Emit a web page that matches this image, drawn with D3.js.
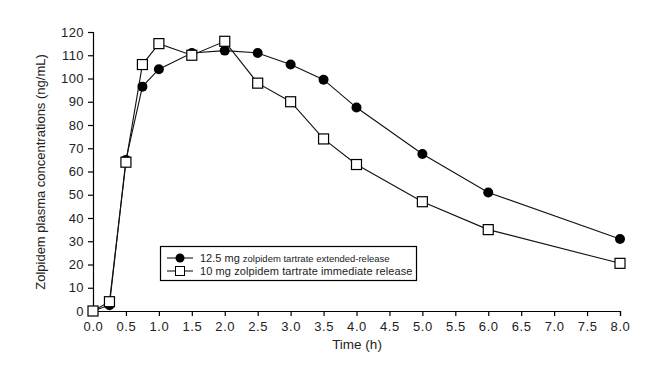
<!DOCTYPE html>
<html><head><meta charset="utf-8">
<script src="https://cdn.jsdelivr.net/npm/d3@7"></script>
<style>body{margin:0;background:#fff}svg{display:block}</style>
</head><body><svg id="c" width="661" height="382"></svg>
<script>
const times = [0, 0.25, 0.5, 0.75, 1.0, 1.5, 2.0, 2.5, 3.0, 3.5, 4.0, 5.0, 6.0, 8.0];
const extendedRelease = [0, 2.5, 65, 96.5, 104, 111, 112, 111, 106, 99.5, 87.5, 67.5, 51, 31];
const immediateRelease = [0, 4, 64, 106, 115, 110, 116, 98, 90, 74, 63, 47, 35, 20.5];
const xTicks = [0,0.5,1,1.5,2,2.5,3,3.5,4,4.5,5,5.5,6,6.5,7,7.5,8];
const yTicks = [0,10,20,30,40,50,60,70,80,90,100,110,120];

const svg = d3.select("#c");
const x = d3.scaleLinear().domain([0, 8]).range([93, 620]);
const y = d3.scaleLinear().domain([0, 120]).range([311, 32]);
const font = "'Liberation Sans', Arial, sans-serif";

const xa = svg.append("g").attr("transform","translate(0,311)")
  .call(d3.axisBottom(x).tickValues(xTicks).tickFormat(d3.format(".1f")).tickSizeOuter(0).tickSize(5).tickPadding(6));
const ya = svg.append("g").attr("transform","translate(93,0)")
  .call(d3.axisLeft(y).tickValues(yTicks).tickSizeOuter(0).tickSize(5).tickPadding(4));
[xa, ya].forEach(a => {
  a.selectAll("path,line").attr("stroke","#000").attr("stroke-width",1.2);
  a.selectAll("text").attr("font-family",font).attr("font-size",13).attr("fill","#222");
});
xa.selectAll("text").attr("letter-spacing","0.6px");
ya.selectAll("text").attr("letter-spacing","0.4px");

svg.append("text").attr("x",357).attr("y",349).attr("text-anchor","middle")
  .attr("font-family",font).attr("font-size",13.5).attr("fill","#222").text("Time (h)");
svg.append("text").attr("transform","translate(45,172) rotate(-90)").attr("text-anchor","middle")
  .attr("font-family",font).attr("font-size",13).attr("fill","#222").text("Zolpidem plasma concentrations (ng/mL)");

const line = d3.line().x((d,i)=>x(times[i])).y(d=>y(d));
svg.append("path").datum(immediateRelease).attr("d",line).attr("fill","none").attr("stroke","#111").attr("stroke-width",1.1);
svg.append("path").datum(extendedRelease).attr("d",line).attr("fill","none").attr("stroke","#111").attr("stroke-width",1.1);

svg.append("g").selectAll("circle").data(extendedRelease).join("circle")
  .attr("cx",(d,i)=>x(times[i])).attr("cy",d=>y(d)).attr("r",5).attr("fill","#000");
svg.append("g").selectAll("rect").data(immediateRelease).join("rect")
  .attr("x",(d,i)=>x(times[i])-5).attr("y",d=>y(d)-5).attr("width",10).attr("height",10)
  .attr("fill","#fff").attr("stroke","#000").attr("stroke-width",1.2);

// legend
const lg = svg.append("g");
lg.append("rect").attr("x",160.5).attr("y",246.5).attr("width",256).attr("height",34)
  .attr("fill","#fff").attr("stroke","#000").attr("stroke-width",1.2);
lg.append("line").attr("x1",167).attr("x2",193).attr("y1",258).attr("y2",258).attr("stroke","#000");
lg.append("circle").attr("cx",180).attr("cy",258).attr("r",4.5).attr("fill","#000");
lg.append("line").attr("x1",167).attr("x2",193).attr("y1",271).attr("y2",271).attr("stroke","#000");
lg.append("rect").attr("x",175.5).attr("y",266.5).attr("width",9).attr("height",9).attr("fill","#fff").attr("stroke","#000");
const t1 = lg.append("text").attr("x",200).attr("y",262).attr("font-family",font).attr("fill","#222");
t1.append("tspan").attr("font-size",11).text("12.5 mg ");
t1.append("tspan").attr("font-size",9.5).text("zolpidem tartrate extended-release");
lg.append("text").attr("x",200).attr("y",275).attr("font-family",font).attr("font-size",11).attr("fill","#222")
  .attr("letter-spacing","0.1px").text("10 mg zolpidem tartrate immediate release");
</script></body></html>
